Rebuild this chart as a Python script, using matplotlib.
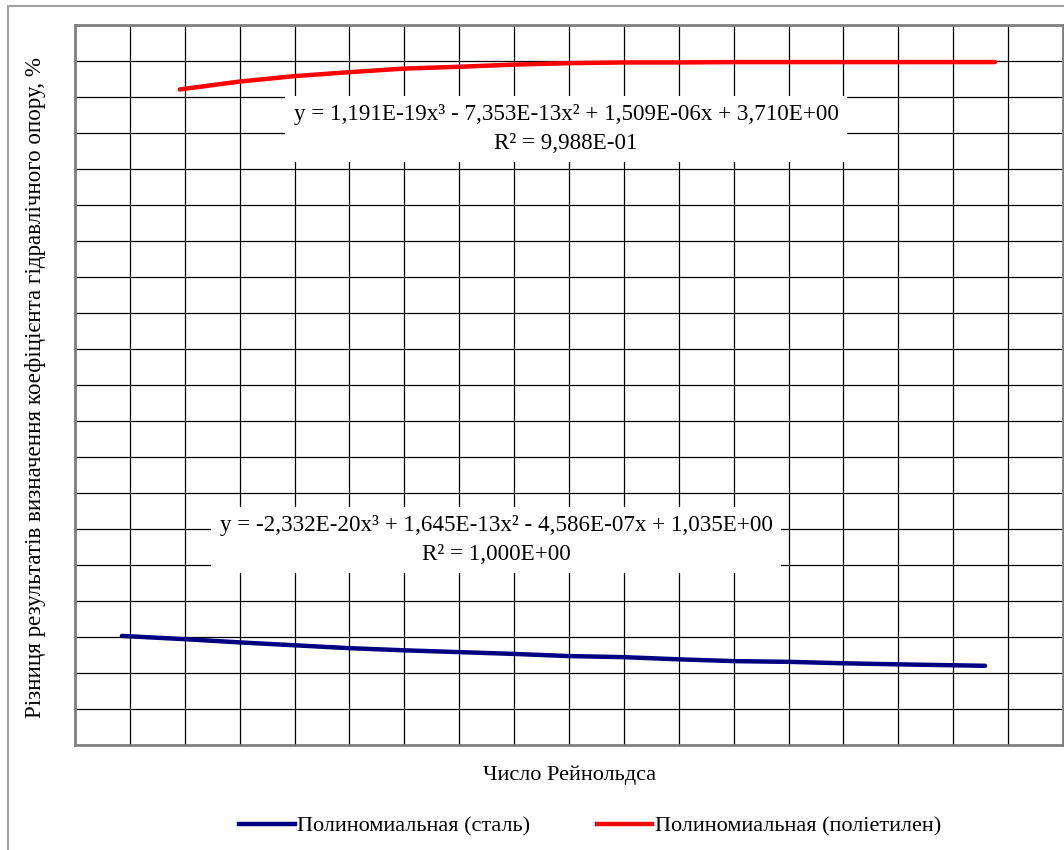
import matplotlib.pyplot as plt
from matplotlib.lines import Line2D
from matplotlib.patches import Rectangle

plt.rcParams['font.family'] = ['Liberation Serif', 'DejaVu Serif']

# curve points (x: grid cells along Re axis, y: grid cells)
steel_x = [0.855, 2, 3, 4, 5, 6, 7, 8, 9, 10, 11, 12, 13, 14, 15, 16.58]
steel_y = [3.03, 2.94, 2.85, 2.77, 2.69, 2.63, 2.58, 2.53, 2.47, 2.44, 2.38, 2.33, 2.31, 2.27, 2.24, 2.20]

pe_x = [1.909, 3, 4, 5, 6, 7, 8, 9, 10, 11, 12, 13, 14, 15, 16.76]
pe_y = [18.21, 18.43, 18.58, 18.69, 18.79, 18.84, 18.90, 18.94, 18.96, 18.96, 18.97, 18.97, 18.97, 18.97, 18.97]

steel_eq = "y = -2,332E-20x³ + 1,645E-13x² - 4,586E-07x + 1,035E+00\nR² = 1,000E+00"
pe_eq = "y = 1,191E-19x³ - 7,353E-13x² + 1,509E-06x + 3,710E+00\nR² = 9,988E-01"

labels = ["Полиномиальная (сталь)", "Полиномиальная (поліетилен)"]
x_label = "Число Рейнольдса"
y_label = "Різниця результатів визначення коефіцієнта гідравлічного опору, %"

fig = plt.figure(figsize=(10.64, 8.5), dpi=100)
ax = fig.add_axes([75/1064, 105/850, 988/1064, 720/850])

ax.plot(steel_x, steel_y, color='#000080', lw=3.2, solid_capstyle='round')
ax.plot(pe_x, pe_y, color='#ff0000', lw=3.2, solid_capstyle='round')

ax.set_xlim(0, 18)
ax.set_ylim(0, 20)
ax.set_xticks(range(0, 19))
ax.set_yticks(range(0, 21))
ax.tick_params(length=0, labelbottom=False, labelleft=False)
ax.grid(True, color='black', lw=0.9)
ax.set_axisbelow(True)
for s in ax.spines.values():
    s.set_color('#808080')
    s.set_linewidth(2)

# equation labels sit on white boxes, in grid-cell coordinates
box = dict(facecolor='white', edgecolor='none', pad=6)
ax.text((567 - 75)/55, (745 - 129)/36, pe_eq, ha='center', va='center',
        fontsize=16.6, linespacing=1.45, bbox=box)
ax.text((497 - 75)/55, (745 - 540)/36, steel_eq, ha='center', va='center',
        fontsize=16.6, linespacing=1.45, bbox=box)

fig.text(570/1064, 1 - 775/850, x_label, ha='center', va='center', fontsize=16)
fig.text(36/1064, 1 - 387/850, y_label, ha='center', va='center', rotation=90, fontsize=16.6)

handles = [Line2D([], [], color='#000080', lw=3.2), Line2D([], [], color='#ff0000', lw=3.2)]
fig.legend(handles, labels, loc='center', bbox_to_anchor=(590/1064, 1 - 826/850),
           ncol=2, frameon=False, fontsize=16, handlelength=2.5, handletextpad=0.1,
           columnspacing=3.0)

fig.patches.append(Rectangle((8/1064, -0.1), 1.2, 0.1 + 1 - 6/850, transform=fig.transFigure,
                             fill=False, edgecolor='#a0a0a0', lw=1.5))

fig.savefig('out.png', dpi=100)
